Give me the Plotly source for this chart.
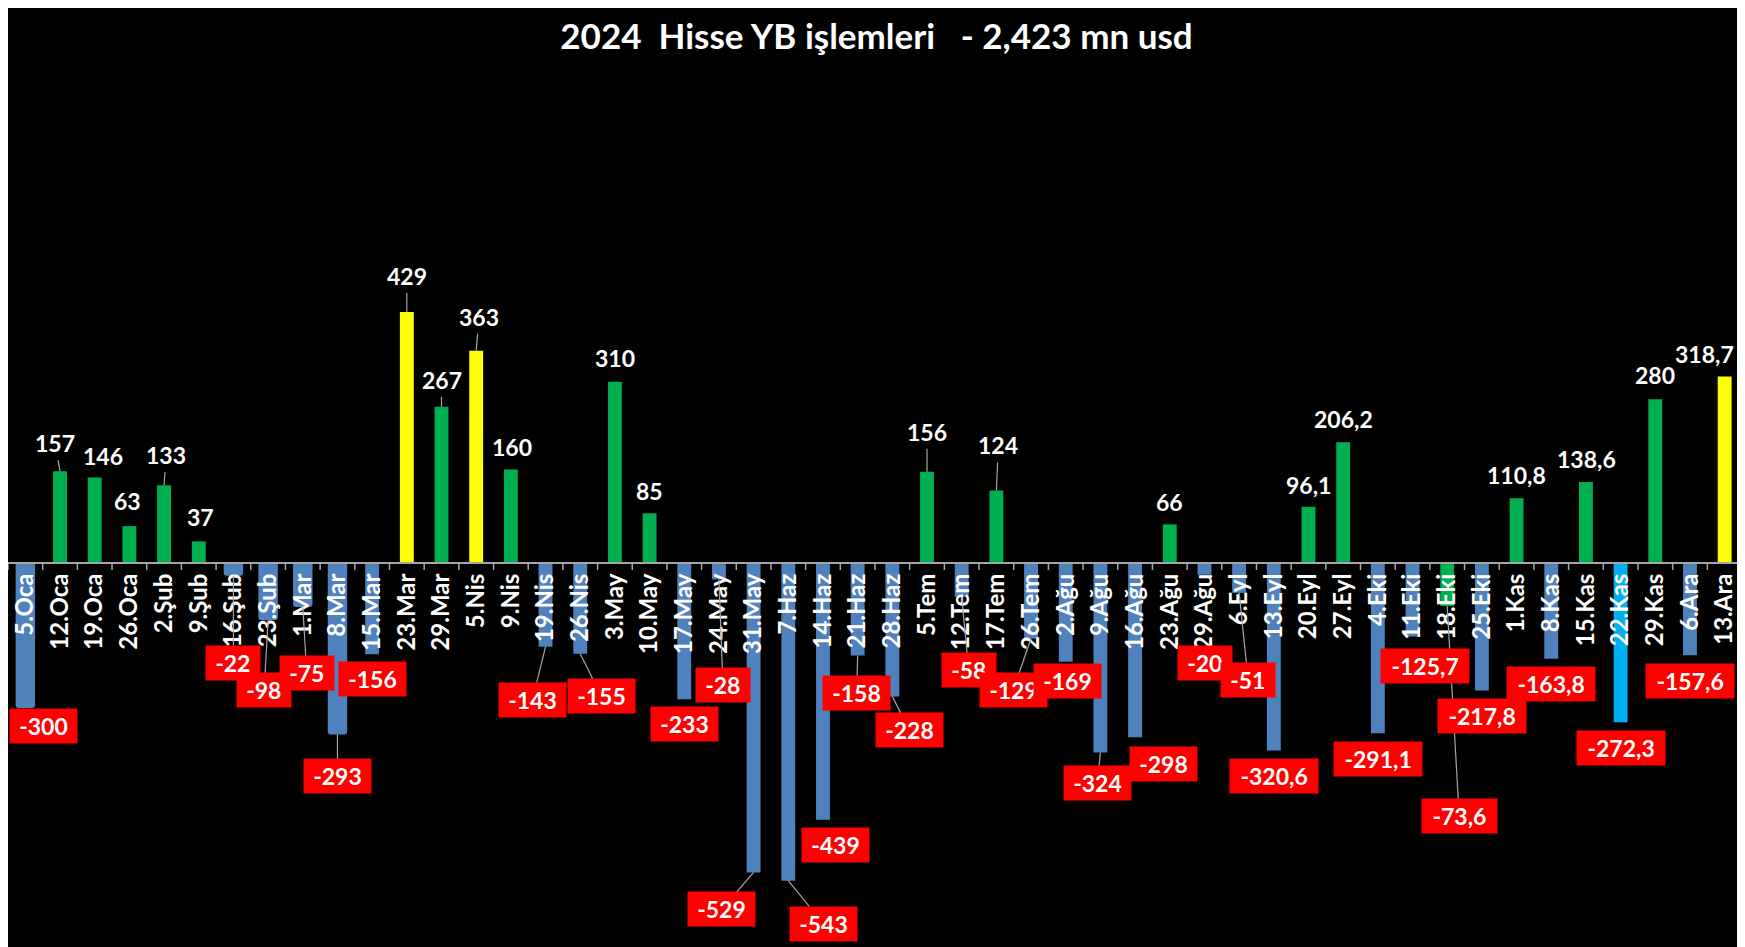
import plotly.graph_objects as go

# ---------------- data ----------------
categories = ["5.Oca", "12.Oca", "19.Oca", "26.Oca", "2.Şub", "9.Şub", "16.Şub", "23.Şub",
              "1.Mar", "8.Mar", "15.Mar", "23.Mar", "29.Mar", "5.Nis", "9.Nis", "19.Nis",
              "26.Nis", "3.May", "10.May", "17.May", "24.May", "31.May", "7.Haz", "14.Haz",
              "21.Haz", "28.Haz", "5.Tem", "12.Tem", "17.Tem", "26.Tem", "2.Ağu", "9.Ağu",
              "16.Ağu", "23.Ağu", "29.Ağu", "6.Eyl", "13.Eyl", "20.Eyl", "27.Eyl", "4.Eki",
              "11.Eki", "18.Eki", "25.Eki", "1.Kas", "8.Kas", "15.Kas", "22.Kas", "29.Kas",
              "6.Ara", "13.Ara"]

# bar heights as drawn (mn usd)
values = [-248, 157, 146, 63, 133, 37, -22, -98, -75, -293, -156, 429, 267, 363, 160, -143,
          -155, 310, 85, -233, -28, -529, -543, -439, -158, -228, 156, -58, 124, -129, -169, -324,
          -298, 66, -20, -51, -320.6, 96.1, 206.2, -291.1, -125.7, -73.6, -217.8, 110.8, -163.8, 138.6,
          -272.3, 280, -157.6, 318.7]

# data label texts
labels = ["-300", "157", "146", "63", "133", "37", "-22", "-98", "-75", "-293", "-156", "429",
          "267", "363", "160", "-143", "-155", "310", "85", "-233", "-28", "-529", "-543", "-439",
          "-158", "-228", "156", "-58", "124", "-129", "-169", "-324", "-298", "66", "-20", "-51",
          "-320,6", "96,1", "206,2", "-291,1", "-125,7", "-73,6", "-217,8", "110,8", "-163,8",
          "138,6", "-272,3", "280", "-157,6", "318,7"]

title = "2024\u00a0\u00a0Hisse YB işlemleri\u00a0\u00a0\u00a0- 2,423 mn usd"

# ---------------- styling ----------------
FONT = "Lato"
GREEN, BLUE, YELLOW, CYAN = "#00B050", "#4F81BD", "#FFFF00", "#00B0F0"
LEADER = "#A6A6A6"

special = {11: YELLOW, 13: YELLOW, 49: YELLOW, 41: GREEN, 46: CYAN}
wide = {0, 6, 7, 8, 9}

# label offsets from bar end (pixels, screen: +y down)
offsets = [(18, 18), (-5, -28), (8, -22), (-2, -25), (2, -30), (2, -24), (0, 87), (-4, 70),
           (4, 66), (0, 42), (0, 25), (0, -36), (0, -27), (3, -34), (1, -22), (-13, 53),
           (21, 42), (0, -24), (0, -22), (0, 25), (4, 106), (-32, 37), (35, 43), (13, 25),
           (-1, 38), (17, 34), (0, -40), (7, 73), (2, -45), (-18, 52), (2, 19), (-3, 30),
           (28, 27), (0, -22), (1, 88), (9, 87), (0, 25), (0, -22), (0, -23), (0, 26),
           (12, 29), (12, 210), (0, 26), (0, -23), (0, 25), (1, -23), (0, 26), (0, -24),
           (0, 26), (-20, -23)]
leaders = {1, 4, 11, 12, 13, 26, 28, 6, 7, 8, 9, 15, 16, 20, 21, 22, 24, 25, 27, 29, 31, 35, 41}

# page body adds an 8px margin, so the figure itself is 8px smaller
W, H = 1737, 939
MR = 3
zero_px = 555          # zero line from top of figure
px_per_unit = 0.585
y_lo = -(H - zero_px) / px_per_unit
y_hi = zero_px / px_per_unit

colors = [special.get(i, GREEN if v > 0 else BLUE) for i, v in enumerate(values)]

fig = go.Figure()
for group, wdt, rad in [(False, 0.40, 0), (True, 0.56, 3)]:
    idx = [i for i in range(len(values)) if (i in wide) == group]
    fig.add_trace(go.Bar(x=idx,
                         y=[values[i] for i in idx],
                         width=wdt,
                         marker=dict(color=[colors[i] for i in idx], line=dict(width=0),
                                     cornerradius=rad),
                         hoverinfo="skip", showlegend=False))


def box_width(t):
    digits = sum(ch.isdigit() for ch in t)
    return 20 + 13.3 * digits + 7 * t.count("-") + 8 * t.count(",")


annotations = []
shapes = []
for i, (v, t) in enumerate(zip(values, labels)):
    dx, dy = offsets[i]
    neg = v < 0
    a = dict(x=i, y=v, xref="x", yref="y", text=t, showarrow=False,
             xshift=dx, yshift=-dy, xanchor="center", yanchor="middle",
             font=dict(family=FONT, size=23, color="white", weight="bold"))
    if neg:
        bw = box_width(t)
        a.update(bgcolor="#FF0000", width=bw, height=34, borderpad=0)
        hw, hh = bw / 2, 17
    else:
        hw, hh = 6.5 * len(t) + 2, 17
    annotations.append(a)
    if i in leaders:
        s = min(hw / abs(dx) if dx else 1e9, hh / abs(dy) if dy else 1e9)
        ex, ey = dx - s * dx, dy - s * dy
        shapes.append(dict(type="line", xref="x", yref="y", xsizemode="pixel", ysizemode="pixel",
                           xanchor=i, yanchor=v, x0=0, y0=0, x1=ex, y1=-ey,
                           line=dict(color=LEADER, width=1.2), layer="above"))

fig.update_layout(
    width=W, height=H,
    margin=dict(l=0, r=MR, t=0, b=0),
    paper_bgcolor="#DCDCDC",
    plot_bgcolor="black",
    barmode="overlay",
    title=dict(text=title, x=0.5, xref="container", xanchor="center",
               y=1 - 29 / H, yref="container", yanchor="middle",
               font=dict(family=FONT, size=35, color="white", weight="bold")),
    xaxis=dict(type="linear", range=[-0.5, len(categories) - 0.5],
               tickmode="array", tickvals=list(range(len(categories))), ticktext=categories,
               tickangle=-90, tickfont=dict(family=FONT, size=24, color="white", weight="bold"),
               showgrid=False, zeroline=False, showline=True, linecolor=LEADER, linewidth=2,
               ticks="", anchor="free", position=(-y_lo) / (y_hi - y_lo)),
    yaxis=dict(range=[y_lo, y_hi], visible=False),
    annotations=annotations,
    shapes=shapes,
)

# boundary tick marks on the zero line
for k in range(len(categories) + 1):
    fig.add_shape(type="line", xref="x", yref="y", ysizemode="pixel", yanchor=0,
                  x0=k - 0.5, x1=k - 0.5, y0=0, y1=-7,
                  line=dict(color=LEADER, width=1.5), layer="above")

fig.write_html("out.html")
